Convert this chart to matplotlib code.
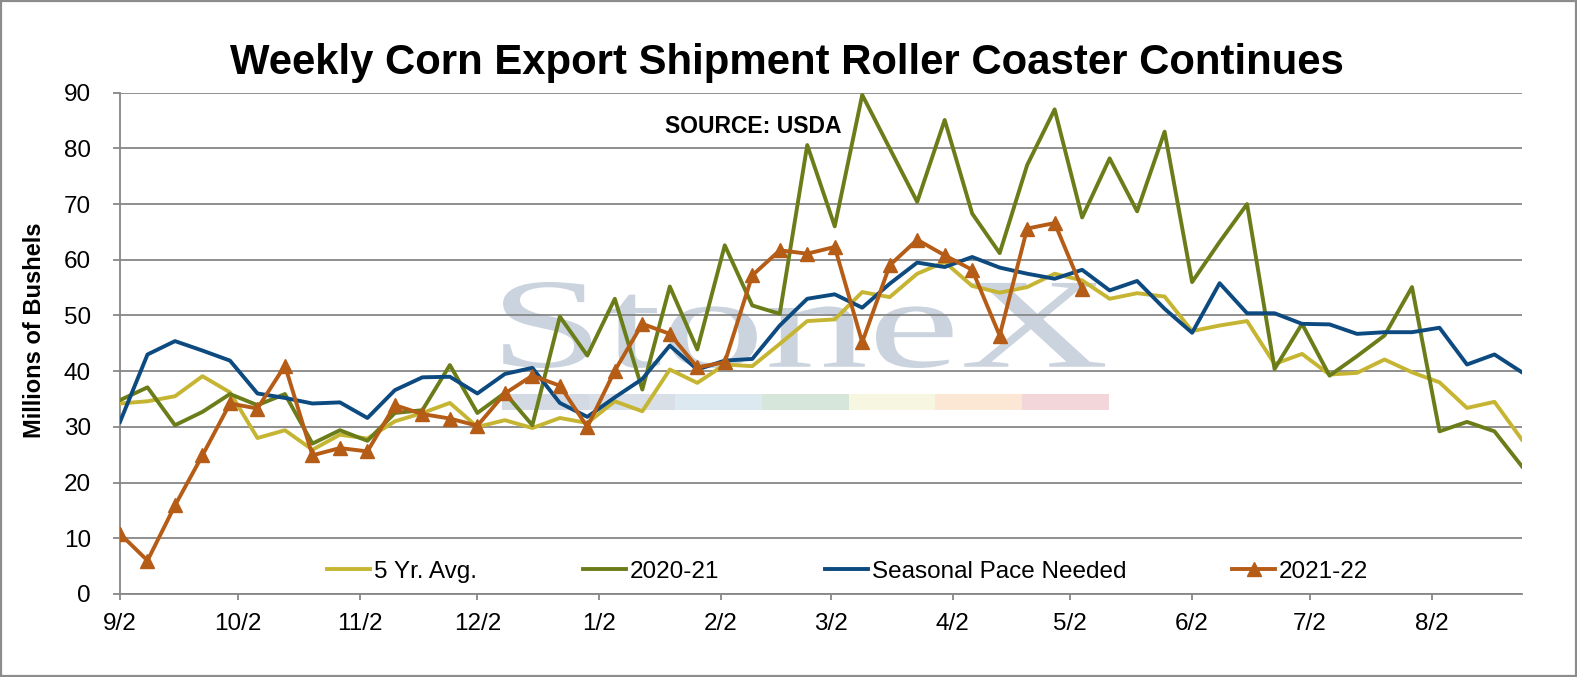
import matplotlib
matplotlib.use('Agg')
import matplotlib.pyplot as plt
import pandas as pd
from matplotlib.textpath import TextPath
from matplotlib.patches import PathPatch, Rectangle
from matplotlib.font_manager import FontProperties
from matplotlib.transforms import Affine2D

plt.rcParams['font.family'] = ['Liberation Sans', 'DejaVu Sans']

# weekly dates of the marketing year
weeks = pd.date_range('2021-09-02', periods=52, freq='7D')

avg_5yr = [34.2, 34.6, 35.5, 39.1, 36.2, 28.0, 29.4, 25.9, 28.6, 27.9, 31.0, 32.5, 34.3,
           30.0, 31.2, 29.8, 31.6, 30.7, 34.6, 32.8, 40.3, 37.9, 41.2, 40.9, 44.9, 49.0,
           49.3, 54.2, 53.3, 57.5, 59.6, 55.3, 54.1, 55.1, 57.5, 56.3, 53.0, 54.0, 53.4,
           47.2, 48.2, 49.0, 41.3, 43.1, 39.4, 39.7, 42.1, 39.8, 38.0, 33.4, 34.5, 27.7]

y2020_21 = [34.8, 37.1, 30.3, 32.7, 35.9, 33.9, 35.9, 27.0, 29.4, 27.5, 32.5, 33.0, 41.1,
            32.5, 36.1, 30.3, 49.8, 42.8, 53.0, 36.7, 55.2, 43.9, 62.6, 51.8, 50.3, 80.6,
            66.0, 89.6, 80.0, 70.4, 85.1, 68.3, 61.2, 77.0, 87.0, 67.6, 78.2, 68.7, 83.0,
            56.0, 63.2, 70.0, 40.4, 48.5, 39.2, 42.7, 46.4, 55.1, 29.2, 30.9, 29.2, 22.9]

pace_needed = [30.9, 43.0, 45.4, 43.7, 41.9, 36.0, 35.2, 34.2, 34.4, 31.6, 36.6, 38.9, 39.0,
               36.0, 39.5, 40.6, 34.3, 31.8, 35.3, 38.6, 44.6, 40.3, 41.9, 42.2, 48.2, 53.0,
               53.8, 51.4, 55.7, 59.5, 58.7, 60.5, 58.6, 57.5, 56.6, 58.2, 54.5, 56.2, 51.2,
               46.9, 55.8, 50.4, 50.4, 48.5, 48.4, 46.7, 47.0, 47.0, 47.8, 41.2, 43.0, 39.8]

y2021_22 = [10.8, 6.0, 15.9, 24.9, 34.2, 33.3, 41.0, 24.9, 26.2, 25.6, 33.9, 32.3, 31.5,
            30.2, 36.0, 39.2, 37.4, 30.0, 40.1, 48.5, 46.7, 40.7, 41.6, 57.2, 61.7, 61.1,
            62.3, 45.2, 59.0, 63.6, 60.8, 58.2, 46.4, 65.6, 66.6, 54.8]

tick_dates = pd.to_datetime(['2021-09-02', '2021-10-02', '2021-11-02', '2021-12-02',
                             '2022-01-02', '2022-02-02', '2022-03-02', '2022-04-02',
                             '2022-05-02', '2022-06-02', '2022-07-02', '2022-08-02'])
tick_labels = ['9/2', '10/2', '11/2', '12/2', '1/2', '2/2', '3/2', '4/2', '5/2', '6/2', '7/2', '8/2']

grid_col = '#878787'

fig = plt.figure(figsize=(15.77, 6.77), dpi=100)
ax = fig.add_axes([0.0761, 0.1226, 0.8890, 0.7405])

# watermark logo behind everything
tp = TextPath((0, 0), 'StoneX', size=1, prop=FontProperties(family='Liberation Serif'))
bb = tp.get_extents()
x0, x1, y0, y1 = 0.2732, 0.7026, 0.4508, 0.6224
tr = Affine2D().translate(-bb.x0, -bb.y0).scale((x1 - x0) / bb.width, (y1 - y0) / bb.height).translate(x0, y0)
ax.add_patch(PathPatch(tr.transform_path(tp), transform=ax.transAxes, facecolor='#CBD4DE',
                       edgecolor='none', zorder=0.3))
strip_cols = ['#D3DAE3', '#D8DFE7', '#DDE9F1', '#D6E6DB', '#F7F6E1', '#FBE7D4', '#F3D6D9']
for k, c in enumerate(strip_cols):
    ax.add_patch(Rectangle((0.2725 + k * 0.0618, 0.367), 0.0618, 0.032, transform=ax.transAxes,
                           facecolor=c, edgecolor='none', zorder=0.3))

ax.plot(weeks, avg_5yr, color='#C6B532', lw=2.8, label='5 Yr. Avg.', zorder=3)
ax.plot(weeks, y2020_21, color='#6A7D19', lw=2.8, label='2020-21', zorder=4)
ax.plot(weeks, pace_needed, color='#0C4A80', lw=2.8, label='Seasonal Pace Needed', zorder=5)
ax.plot(weeks[:len(y2021_22)], y2021_22, color='#B55C17', lw=2.8, marker='^', ms=10,
        label='2021-22', zorder=6)

ax.set_xlim(weeks[0], weeks[-1])
ax.set_ylim(0, 90)
ax.set_yticks(range(0, 91, 10))
ax.set_xticks(tick_dates)
ax.set_xticklabels(tick_labels)
ax.yaxis.grid(True, color=grid_col, lw=1.3)
ax.set_axisbelow(True)
for s in ['top', 'right']:
    ax.spines[s].set_visible(False)
for s in ['left', 'bottom']:
    ax.spines[s].set_color(grid_col)
    ax.spines[s].set_linewidth(1.3)
ax.tick_params(axis='y', length=5, width=1.3, color=grid_col, pad=16, labelsize=17.5)
ax.tick_params(axis='x', length=4.5, width=1.3, color=grid_col, pad=9, labelsize=17.5)

ax.legend(loc='center', bbox_to_anchor=(0.519, 0.0445), ncol=4, frameon=False,
          fontsize=17.5, handlelength=1.77, handletextpad=0.15, columnspacing=4.36,
          borderpad=0, borderaxespad=0)

ax.text(0.389, 0.919, 'SOURCE: USDA', transform=ax.transAxes, fontsize=16.5,
        fontweight='bold', ha='left', va='baseline')

fig.text(786.5 / 1577, 1 - 74 / 677, 'Weekly Corn Export Shipment Roller Coaster Continues',
         ha='center', va='baseline', fontsize=30.2, fontweight='bold')
fig.text(35 / 1577, 1 - 330 / 677, 'Millions of Bushels', rotation=90, ha='center',
         va='center', fontsize=17, fontweight='bold')

fig.add_artist(Rectangle((0.0008, 0.0015), 0.9984, 0.997, transform=fig.transFigure,
                         fill=False, edgecolor='#8C8C8C', lw=1.6))

fig.savefig('out.png', dpi=100)
